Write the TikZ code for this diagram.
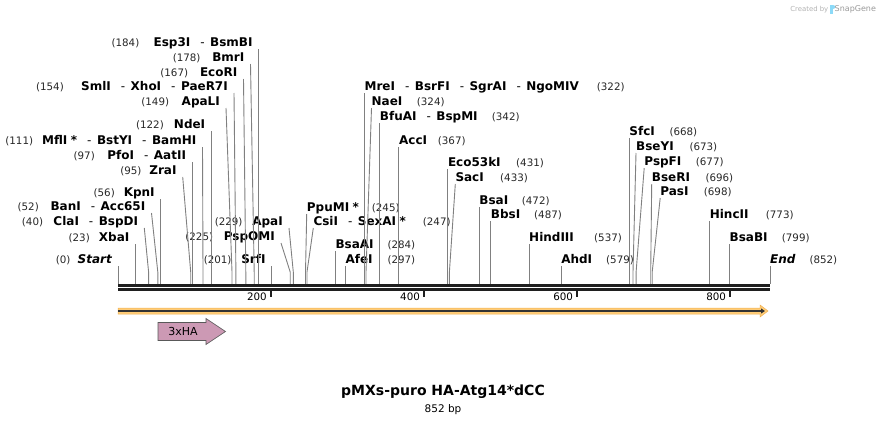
\documentclass[tikz,border=0pt]{standalone}
\usepackage{fontspec}
\setmainfont{DejaVu Sans}
\usetikzlibrary{positioning}
\usetikzlibrary{arrows.meta}
\definecolor{orfband}{HTML}{FFCC77}
\definecolor{orfedge}{HTML}{F0B050}
\definecolor{hatag}{HTML}{CC99B4}
\newcommand{\dsh}{\hspace{10pt}\textmd{-}\hspace{5.5pt}}
\newcommand{\mstar}{\hspace{3.5pt}*}

\begin{document}
\begin{tikzpicture}[x=1pt, y=-1pt,
    enz/.style = {inner sep=0pt, font=\fontsize{12}{14}\selectfont\bfseries},
    num/.style = {inner sep=0pt, font=\fontsize{10.3}{12}\selectfont, text=black!85},
    cutline/.style = {draw=black!50, line width=0.9pt},
    mapline/.style = {draw=black!88, line width=2.4pt},
    tickmark/.style = {draw=black!88, line width=2pt}]
	\useasboundingbox (0,0) rectangle (888,423);

	% cut sites on the map
	\coordinate (s0) at (118,284);
	\coordinate (s23) at (135.6,284);
	\coordinate (s40) at (148.6,284);
	\coordinate (s52) at (157.8,284);
	\coordinate (s56) at (160.9,284);
	\coordinate (s95) at (190.7,284);
	\coordinate (s97) at (192.2,284);
	\coordinate (s111) at (203,284);
	\coordinate (s122) at (211.4,284);
	\coordinate (s149) at (232,284);
	\coordinate (s154) at (235.9,284);
	\coordinate (s167) at (245.8,284);
	\coordinate (s178) at (254.2,284);
	\coordinate (s184) at (258.8,284);
	\coordinate (s201) at (271.8,284);
	\coordinate (s225) at (290.2,284);
	\coordinate (s229) at (293.3,284);
	\coordinate (s245) at (305.5,284);
	\coordinate (s247) at (307,284);
	\coordinate (s284) at (335.3,284);
	\coordinate (s297) at (345.3,284);
	\coordinate (s322) at (364.4,284);
	\coordinate (s324) at (366,284);
	\coordinate (s342) at (379.7,284);
	\coordinate (s367) at (398.9,284);
	\coordinate (s431) at (447.8,284);
	\coordinate (s433) at (449.4,284);
	\coordinate (s472) at (479.2,284);
	\coordinate (s487) at (490.7,284);
	\coordinate (s537) at (529,284);
	\coordinate (s579) at (561.1,284);
	\coordinate (s668) at (629.2,284);
	\coordinate (s673) at (633,284);
	\coordinate (s677) at (636.1,284);
	\coordinate (s696) at (650.7,284);
	\coordinate (s698) at (652.2,284);
	\coordinate (s773) at (709.6,284);
	\coordinate (s799) at (729.5,284);
	\coordinate (s852) at (770,284);

	% enzymes left of their line
	\node[enz, anchor=base east] (e184) at (252.8,46) {Esp3I\dsh BsmBI};
	\node[enz, anchor=base east] (e178) at (244.5,61) {BmrI};
	\node[enz, anchor=base east] (e167) at (237.5,76) {EcoRI};
	\node[enz, anchor=base east] (e154) at (228,90) {SmlI\dsh XhoI\dsh PaeR7I};
	\node[enz, anchor=base east] (e149) at (220,105) {ApaLI};
	\node[enz, anchor=base east] (e122) at (205.4,128) {NdeI};
	\node[enz, anchor=base east] (e111) at (196.5,144) {MflI\mstar\dsh BstYI\dsh BamHI};
	\node[enz, anchor=base east] (e97) at (186.2,159) {PfoI\dsh AatII};
	\node[enz, anchor=base east] (e95) at (176.7,174) {ZraI};
	\node[enz, anchor=base east] (e56) at (154.9,196) {KpnI};
	\node[enz, anchor=base east] (e52) at (145.5,210) {BanI\dsh Acc65I};
	\node[enz, anchor=base east] (e40) at (138.3,225) {ClaI\dsh BspDI};
	\node[enz, anchor=base east] (e23) at (129.6,241) {XbaI};
	\node[enz, anchor=base east] (e0) at (112,263) {\itshape Start};
	\node[enz, anchor=base east] (e201) at (265.8,263) {SrfI};
	\node[enz, anchor=base east] (e225) at (275,240) {PspOMI};
	\node[enz, anchor=base east] (e229) at (283,225) {ApaI};

	\node[num, anchor=base east] (p184) at (139.5,46) {(184)};
	\node[num, anchor=base east] (p178) at (200.7,61) {(178)};
	\node[num, anchor=base east] (p167) at (188.3,76) {(167)};
	\node[num, anchor=base east] (p154) at (64,90) {(154)};
	\node[num, anchor=base east] (p149) at (169.3,105) {(149)};
	\node[num, anchor=base east] (p122) at (164,128) {(122)};
	\node[num, anchor=base east] (p111) at (33.3,144) {(111)};
	\node[num, anchor=base east] (p97) at (95,159) {(97)};
	\node[num, anchor=base east] (p95) at (141.7,174) {(95)};
	\node[num, anchor=base east] (p56) at (115,196) {(56)};
	\node[num, anchor=base east] (p52) at (39,210) {(52)};
	\node[num, anchor=base east] (p40) at (43.3,225) {(40)};
	\node[num, anchor=base east] (p23) at (90,241) {(23)};
	\node[num, anchor=base east] (p0) at (70.7,263) {(0)};
	\node[num, anchor=base east] (p201) at (231.7,263) {(201)};
	\node[num, anchor=base east] (p225) at (213.3,240) {(225)};
	\node[num, anchor=base east] (p229) at (242.7,225) {(229)};

	% enzymes right of their line
	\node[enz, anchor=base west] (e245) at (306.7,211) {PpuMI\mstar};
	\node[enz, anchor=base west] (e247) at (313.3,225) {CsiI\dsh SexAI\mstar};
	\node[enz, anchor=base west] (e284) at (335.3,248) {BsaAI};
	\node[enz, anchor=base west] (e297) at (345.3,263) {AfeI};
	\node[enz, anchor=base west] (e322) at (364.4,90) {MreI\dsh BsrFI\dsh SgrAI\dsh NgoMIV};
	\node[enz, anchor=base west] (e324) at (371.5,105) {NaeI};
	\node[enz, anchor=base west] (e342) at (379.7,120) {BfuAI\dsh BspMI};
	\node[enz, anchor=base west] (e367) at (398.9,144) {AccI};
	\node[enz, anchor=base west] (e431) at (447.8,166) {Eco53kI};
	\node[enz, anchor=base west] (e433) at (455.3,181) {SacI};
	\node[enz, anchor=base west] (e472) at (479.2,204) {BsaI};
	\node[enz, anchor=base west] (e487) at (490.7,218) {BbsI};
	\node[enz, anchor=base west] (e537) at (529,241) {HindIII};
	\node[enz, anchor=base west] (e579) at (561.1,263) {AhdI};
	\node[enz, anchor=base west] (e668) at (629.2,135) {SfcI};
	\node[enz, anchor=base west] (e673) at (636,150) {BseYI};
	\node[enz, anchor=base west] (e677) at (644.2,165) {PspFI};
	\node[enz, anchor=base west] (e696) at (651.7,181) {BseRI};
	\node[enz, anchor=base west] (e698) at (660.2,195) {PasI};
	\node[enz, anchor=base west] (e773) at (709.6,218) {HincII};
	\node[enz, anchor=base west] (e799) at (729.5,241) {BsaBI};
	\node[enz, anchor=base west] (e852) at (770,263) {\itshape End};

	\node[num, anchor=base west] (p245) at (371.7,211) {(245)};
	\node[num, anchor=base west] (p247) at (422.7,225) {(247)};
	\node[num, anchor=base west] (p284) at (387.3,248) {(284)};
	\node[num, anchor=base west] (p297) at (387.3,263) {(297)};
	\node[num, anchor=base west] (p322) at (596.7,90) {(322)};
	\node[num, anchor=base west] (p324) at (416.7,105) {(324)};
	\node[num, anchor=base west] (p342) at (491.7,120) {(342)};
	\node[num, anchor=base west] (p367) at (437.7,144) {(367)};
	\node[num, anchor=base west] (p431) at (516,166) {(431)};
	\node[num, anchor=base west] (p433) at (500,181) {(433)};
	\node[num, anchor=base west] (p472) at (521.7,204) {(472)};
	\node[num, anchor=base west] (p487) at (534,218) {(487)};
	\node[num, anchor=base west] (p537) at (594,241) {(537)};
	\node[num, anchor=base west] (p579) at (606,263) {(579)};
	\node[num, anchor=base west] (p668) at (669.3,135) {(668)};
	\node[num, anchor=base west] (p673) at (689.3,150) {(673)};
	\node[num, anchor=base west] (p677) at (695.7,165) {(677)};
	\node[num, anchor=base west] (p696) at (705.3,181) {(696)};
	\node[num, anchor=base west] (p698) at (703.7,195) {(698)};
	\node[num, anchor=base west] (p773) at (765.7,218) {(773)};
	\node[num, anchor=base west] (p799) at (781.7,241) {(799)};
	\node[num, anchor=base west] (p852) at (809.3,263) {(852)};

	% lines from labels down to the map
	\draw[cutline] ([xshift=6pt,yshift=-3pt]e184.base east) -- (s184 |- 0,272) -- (s184);
	\draw[cutline] ([xshift=6pt,yshift=-3pt]e178.base east) -- (s178 |- 0,272) -- (s178);
	\draw[cutline] ([xshift=6pt,yshift=-3pt]e167.base east) -- (s167 |- 0,272) -- (s167);
	\draw[cutline] ([xshift=6pt,yshift=-3pt]e154.base east) -- (s154 |- 0,272) -- (s154);
	\draw[cutline] ([xshift=6pt,yshift=-3pt]e149.base east) -- (s149 |- 0,272) -- (s149);
	\draw[cutline] ([xshift=6pt,yshift=-3pt]e122.base east) -- (s122 |- 0,272) -- (s122);
	\draw[cutline] ([xshift=6pt,yshift=-3pt]e111.base east) -- (s111 |- 0,272) -- (s111);
	\draw[cutline] ([xshift=6pt,yshift=-3pt]e97.base east) -- (s97 |- 0,272) -- (s97);
	\draw[cutline] ([xshift=6pt,yshift=-3pt]e95.base east) -- (s95 |- 0,272) -- (s95);
	\draw[cutline] ([xshift=6pt,yshift=-3pt]e56.base east) -- (s56 |- 0,272) -- (s56);
	\draw[cutline] ([xshift=6pt,yshift=-3pt]e52.base east) -- (s52 |- 0,272) -- (s52);
	\draw[cutline] ([xshift=6pt,yshift=-3pt]e40.base east) -- (s40 |- 0,272) -- (s40);
	\draw[cutline] ([xshift=6pt,yshift=-3pt]e23.base east) -- (s23 |- 0,272) -- (s23);
	\draw[cutline] ([xshift=6pt,yshift=-3pt]e0.base east) -- (s0);
	\draw[cutline] ([xshift=6pt,yshift=-3pt]e201.base east) -- (s201);
	\draw[cutline] ([xshift=6pt,yshift=-3pt]e225.base east) -- (s225 |- 0,272) -- (s225);
	\draw[cutline] ([xshift=6pt,yshift=-3pt]e229.base east) -- (s229 |- 0,272) -- (s229);
	\draw[cutline] ([yshift=-3pt]e245.base west) -- (s245 |- 0,272) -- (s245);
	\draw[cutline] ([yshift=-3pt]e247.base west) -- (s247 |- 0,272) -- (s247);
	\draw[cutline] ([yshift=-3pt]e284.base west) -- (s284);
	\draw[cutline] ([yshift=-3pt]e297.base west) -- (s297);
	\draw[cutline] ([yshift=-3pt]e322.base west) -- (s322);
	\draw[cutline] ([yshift=-3pt]e324.base west) -- (s324 |- 0,272) -- (s324);
	\draw[cutline] ([yshift=-3pt]e342.base west) -- (s342);
	\draw[cutline] ([yshift=-3pt]e367.base west) -- (s367);
	\draw[cutline] ([yshift=-3pt]e431.base west) -- (s431);
	\draw[cutline] ([yshift=-3pt]e433.base west) -- (s433 |- 0,272) -- (s433);
	\draw[cutline] ([yshift=-3pt]e472.base west) -- (s472);
	\draw[cutline] ([yshift=-3pt]e487.base west) -- (s487);
	\draw[cutline] ([yshift=-3pt]e537.base west) -- (s537);
	\draw[cutline] ([yshift=-3pt]e579.base west) -- (s579);
	\draw[cutline] ([yshift=-3pt]e668.base west) -- (s668);
	\draw[cutline] ([yshift=-3pt]e673.base west) -- (s673 |- 0,272) -- (s673);
	\draw[cutline] ([yshift=-3pt]e677.base west) -- (s677 |- 0,272) -- (s677);
	\draw[cutline] ([yshift=-3pt]e696.base west) -- (s696 |- 0,272) -- (s696);
	\draw[cutline] ([yshift=-3pt]e698.base west) -- (s698 |- 0,272) -- (s698);
	\draw[cutline] ([yshift=-3pt]e773.base west) -- (s773);
	\draw[cutline] ([yshift=-3pt]e799.base west) -- (s799);
	\draw[cutline] ([yshift=-3pt]e852.base west) -- (s852);

	% the sequence line and its scale
	\draw[mapline] (118,285.6) -- (770,285.6);
	\draw[mapline] (118,289.6) -- (770,289.6);
	\draw[tickmark] (271,291) -- (271,297);
	\draw[tickmark] (424.1,291) -- (424.1,297);
	\draw[tickmark] (577.2,291) -- (577.2,297);
	\draw[tickmark] (730.2,291) -- (730.2,297);
	\node[num, text=black, anchor=base east] (t200) at (267,300.5) {200};
	\node[num, text=black, anchor=base east] (t400) at (420.1,300.5) {400};
	\node[num, text=black, anchor=base east] (t600) at (573.2,300.5) {600};
	\node[num, text=black, anchor=base east] (t800) at (726.2,300.5) {800};

	% open reading frame
	\filldraw[fill=orfband, draw=orfedge, line width=0.5pt] (118,308) -- (760,308) -- (760,305) -- (768,311) -- (760,317) -- (760,314) -- (118,314) -- cycle;
	\draw[draw=black!80, line width=1.6pt, -{Triangle[length=4pt,width=5pt]}] (118,311) -- (765,311);

	% feature
	\filldraw[fill=hatag, draw=black!65, line width=0.6pt] (158,322.5) -- (206,322.5) -- (206,318.5) -- (225.5,331.5) -- (206,344.5) -- (206,340.5) -- (158,340.5) -- cycle;
	\node[font=\fontsize{11}{13}\selectfont, inner sep=0pt] (ha) at (183,331.5) {3xHA};

	% title
	\node[font=\fontsize{14}{16}\selectfont\bfseries, inner sep=0pt] (title) at (443,392) {pMXs-puro HA-Atg14*dCC};
	\node[font=\fontsize{10.5}{12}\selectfont, inner sep=0pt, below=5pt of title] (size) {852 bp};

	% watermark
	\node[font=\fontsize{6.9}{8}\selectfont, text=black!30, inner sep=0pt, anchor=base east] (made) at (828.5,11.5) {Created by};
	\fill[cyan!45] (830,4.5) rectangle (832.5,13.5);
	\fill[cyan!45] (832.5,4.5) .. controls (835.5,4.5) and (835.5,9) .. (832.5,9) -- cycle;
	\node[font=\fontsize{8}{10}\selectfont, text=black!40, inner sep=0pt, anchor=base west] (brand) at (834.5,11.5) {SnapGene};
\end{tikzpicture}
\end{document}
